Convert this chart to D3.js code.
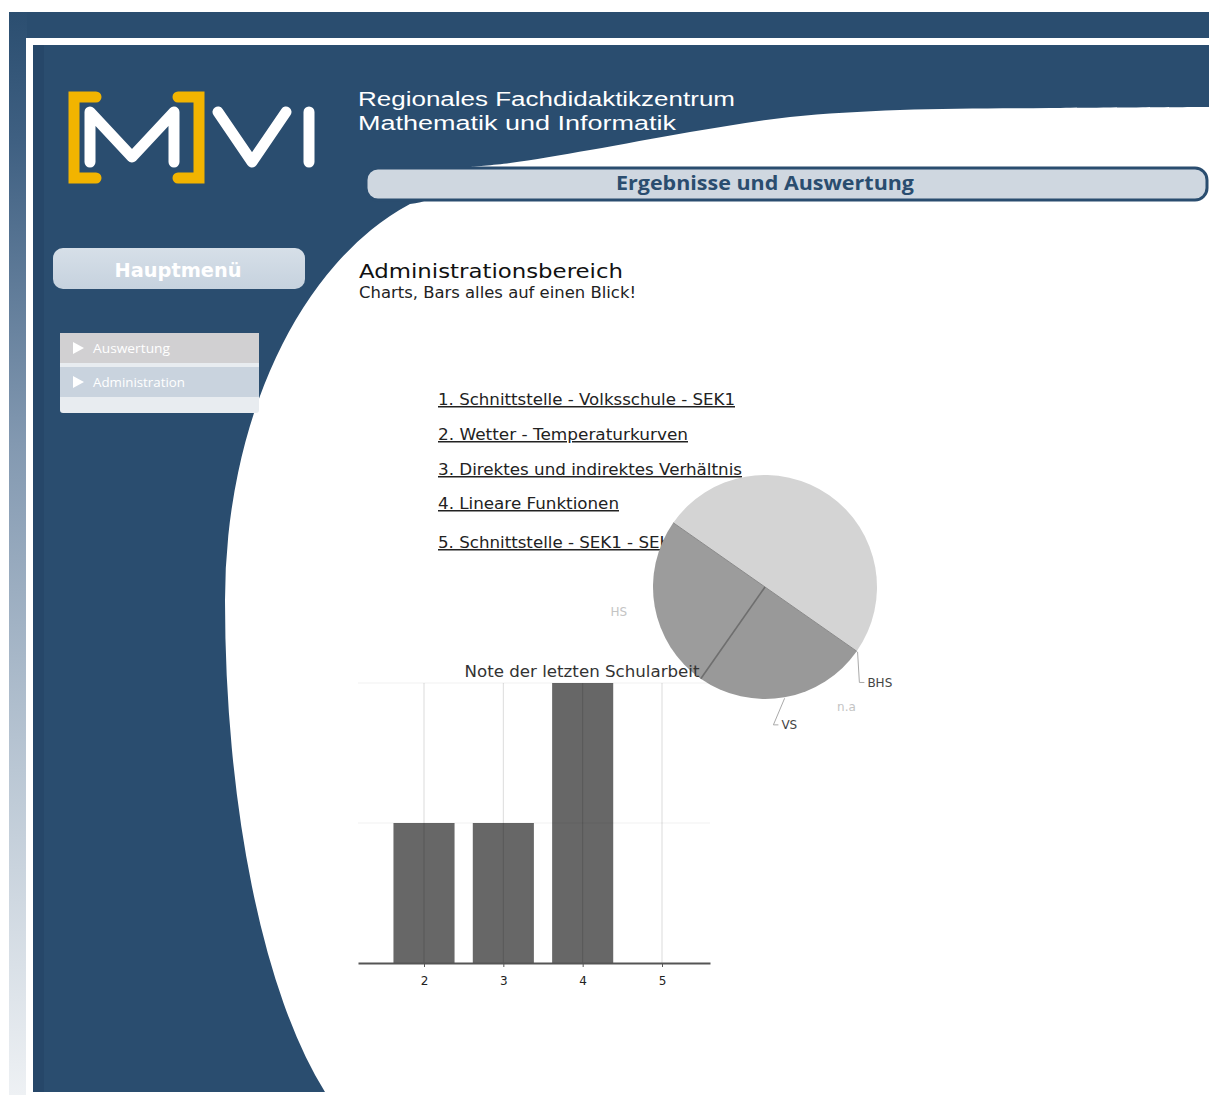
<!DOCTYPE html>
<html>
<head>
<meta charset="utf-8">
<script src="https://cdn.jsdelivr.net/npm/d3@7"></script>
<style>
body { margin: 0; background: #fff; }
svg { display: block; }
</style>
</head>
<body>
<script>
// ---- data ----
var pieNames = ["AHS", "BHS", "n.a", "VS", "HS"];
var pieValues = [2, 0, 0, 1, 1];

var barGrades = [2, 3, 4, 5];
var barCounts = [1, 1, 2, 0];
var barTicks = [1, 2];

var menuItems = ["Auswertung", "Administration"];
var links = ["1. Schnittstelle - Volksschule - SEK1", "2. Wetter - Temperaturkurven",
	"3. Direktes und indirektes Verhältnis", "4. Lineare Funktionen", "5. Schnittstelle - SEK1 - SEK2"];

var blue = "#2a4d6f";
var width = 1209, height = 1095;

var svg = d3.select("body").append("svg")
	.attr("width", width)
	.attr("height", height);

var defs = svg.append("defs");
var grad = defs.append("linearGradient").attr("id", "strip").attr("x1", 0).attr("y1", 0).attr("x2", 0).attr("y2", 1);
grad.append("stop").attr("offset", "0%").attr("stop-color", "#2b4e70");
grad.append("stop").attr("offset", "12%").attr("stop-color", "#3f6082");
grad.append("stop").attr("offset", "40%").attr("stop-color", "#8399b1");
grad.append("stop").attr("offset", "70%").attr("stop-color", "#bac7d4");
grad.append("stop").attr("offset", "100%").attr("stop-color", "#eef1f4");

var pillGrad = defs.append("linearGradient").attr("id", "pill").attr("x1", 0).attr("y1", 0).attr("x2", 0).attr("y2", 1);
pillGrad.append("stop").attr("offset", "0%").attr("stop-color", "#d6dfe8");
pillGrad.append("stop").attr("offset", "100%").attr("stop-color", "#c6d2de");

// ---- page frame ----
svg.append("rect").attr("x", 9).attr("y", 12).attr("width", width - 9).attr("height", 33).attr("fill", blue);
svg.append("rect").attr("x", 9).attr("y", 12).attr("width", 18).attr("height", height - 12).attr("fill", "url(#strip)");
svg.append("rect").attr("x", 26).attr("y", 38).attr("width", width - 26).attr("height", 7).attr("fill", "#fff");
svg.append("rect").attr("x", 26).attr("y", 38).attr("width", 7).attr("height", height - 38).attr("fill", "#fff");
svg.append("rect").attr("x", 33).attr("y", 45).attr("width", width - 33).attr("height", 1047).attr("fill", blue);
svg.append("rect").attr("x", 33).attr("y", 45).attr("width", 11).attr("height", 1047).attr("fill", "#264769");

// white swoosh under header
var curveLine = d3.line().curve(d3.curveCatmullRom.alpha(0.5));
var upper = [[1209, 107], [1050, 108], [900, 110], [790, 117], [690, 132], [590, 150], [510, 163], [470, 167]];
svg.append("path")
	.attr("d", curveLine(upper) + "L470,186L1209,186Z")
	.attr("fill", "#fff");

// white content area, left edge made of two elliptical arcs
var edge = d3.path();
edge.moveTo(1209, 186);
edge.lineTo(445, 186);
edge.quadraticCurveTo(432, 202, 410, 204);
var edgeStr = edge.toString() + "A277,420 0 0 0 225,600A192,560 0 0 0 325,1092L1209,1092Z";
svg.append("path").attr("d", edgeStr).attr("fill", "#fff");

// ---- logo ----
var logo = svg.append("g")
	.attr("fill", "none")
	.attr("stroke-width", 11)
	.attr("stroke-linecap", "round");
logo.append("path").attr("d", "M96,97L74,97L74,178L96,178").attr("stroke", "#f2b400");
logo.append("path").attr("d", "M178,97L199,97L199,178L178,178").attr("stroke", "#f2b400");
logo.append("path").attr("d", "M90,162L90,112L132,157L174,112L174,162").attr("stroke", "#fff").attr("stroke-linejoin", "round");
logo.append("path").attr("d", "M218,112L252,162L286,112").attr("stroke", "#fff").attr("stroke-linejoin", "round");
logo.append("path").attr("d", "M309,112L309,162").attr("stroke", "#fff");

// header texts
svg.append("text").attr("x", 358).attr("y", 106)
	.attr("font-family", "Liberation Sans").attr("font-size", 20).attr("fill", "#fff")
	.attr("textLength", 377).attr("lengthAdjust", "spacingAndGlyphs")
	.text("Regionales Fachdidaktikzentrum");
svg.append("text").attr("x", 358).attr("y", 130)
	.attr("font-family", "Liberation Sans").attr("font-size", 20).attr("fill", "#fff")
	.attr("textLength", 318).attr("lengthAdjust", "spacingAndGlyphs")
	.text("Mathematik und Informatik");

// section pill
svg.append("rect").attr("x", 366).attr("y", 168).attr("width", 841).attr("height", 32).attr("rx", 12)
	.attr("fill", "#cfd7e0").attr("stroke", blue).attr("stroke-width", 3);
svg.append("text").attr("x", 765).attr("y", 190).attr("text-anchor", "middle")
	.attr("font-family", "Open Sans").attr("font-weight", "bold").attr("font-size", 20).attr("fill", blue)
	.attr("textLength", 298).attr("lengthAdjust", "spacingAndGlyphs")
	.text("Ergebnisse und Auswertung");

// ---- left menu ----
svg.append("rect").attr("x", 53).attr("y", 248).attr("width", 252).attr("height", 41).attr("rx", 10)
	.attr("fill", "url(#pill)");
svg.append("text").attr("x", 178).attr("y", 277).attr("text-anchor", "middle")
	.attr("font-family", "DejaVu Sans").attr("font-weight", "bold").attr("font-size", 20).attr("fill", "#fff")
	.attr("textLength", 127).attr("lengthAdjust", "spacingAndGlyphs")
	.text("Hauptmenü");

var rowFill = ["#d1d0d2", "#c9d3de"];
var rowText = [77, 92];
var menu = svg.append("g");
menu.append("rect").attr("x", 60).attr("y", 333).attr("width", 199).attr("height", 80).attr("rx", 3).attr("fill", "#e8ecf0");
menuItems.forEach(function(m, i) {
	var top = 333 + i * 34;
	menu.append("rect").attr("x", 60).attr("y", top).attr("width", 199).attr("height", 30).attr("fill", rowFill[i]);
	menu.append("path").attr("d", "M73," + (top + 9) + "L73," + (top + 21) + "L84," + (top + 15) + "Z").attr("fill", "#fff");
	menu.append("text").attr("x", 93).attr("y", top + 20)
		.attr("font-family", "Open Sans").attr("font-size", 12).attr("fill", "#fff")
		.attr("textLength", rowText[i]).attr("lengthAdjust", "spacingAndGlyphs")
		.text(m);
});

// ---- content ----
svg.append("text").attr("x", 359).attr("y", 278)
	.attr("font-family", "DejaVu Sans").attr("font-size", 20).attr("fill", "#111")
	.attr("textLength", 264).attr("lengthAdjust", "spacingAndGlyphs")
	.text("Administrationsbereich");
svg.append("text").attr("x", 359).attr("y", 298)
	.attr("font-family", "DejaVu Sans").attr("font-size", 15).attr("fill", "#222")
	.attr("textLength", 277).attr("lengthAdjust", "spacingAndGlyphs")
	.text("Charts, Bars alles auf einen Blick!");

var linkY = [405, 440, 475, 509, 548];
var linkW = [297, 250, 304, 181, 243];
svg.selectAll(".link").data(links).enter().append("text")
	.attr("class", "link")
	.attr("x", 438)
	.attr("y", function(d, i) { return linkY[i]; })
	.attr("font-family", "DejaVu Sans").attr("font-size", 15).attr("fill", "#222")
	.attr("text-decoration", "underline")
	.attr("textLength", function(d, i) { return linkW[i]; })
	.attr("lengthAdjust", "spacingAndGlyphs")
	.text(function(d) { return d; });

// ---- pie ----
var cx = 765, cy = 587, r = 112;
var startA = -55 * Math.PI / 180;
var arcs = d3.pie().sort(null).startAngle(startA).endAngle(startA + 2 * Math.PI)(pieValues);
var arc = d3.arc().innerRadius(0).outerRadius(r);
var pieCol = ["#d4d4d4", "#999", "#999", "#999999", "#9c9c9c"];

var pieG = svg.append("g").attr("transform", "translate(" + cx + "," + cy + ")");
pieG.selectAll("path.slice").data(arcs).enter().append("path")
	.attr("class", "slice")
	.attr("d", arc)
	.attr("fill", function(d, i) { return pieCol[i]; });

// slice borders
pieG.selectAll("line.edge").data(arcs.filter(function(d) { return d.value > 0; })).enter().append("line")
	.attr("class", "edge")
	.attr("x1", 0).attr("y1", 0)
	.attr("x2", function(d) { return r * Math.sin(d.startAngle); })
	.attr("y2", function(d) { return -r * Math.cos(d.startAngle); })
	.attr("stroke", function(d, i) { return i === 2 ? "#6e6e6e" : "#8a8a8a"; })
	.attr("stroke-width", function(d, i) { return i === 2 ? 1.6 : 1; });

// labels
var faint = {"HS": true, "n.a": true};
var prevAng = null;
arcs.forEach(function(d, i) {
	var name = pieNames[i];
	if (name === "AHS") return;
	var mid = (d.startAngle + d.endAngle) / 2;
	var ang = mid;
	if (d.value === 0) ang += 8 * Math.PI / 180;
	if (prevAng !== null && Math.abs(ang - prevAng) < 14 * Math.PI / 180) ang = prevAng + 16 * Math.PI / 180;
	prevAng = ang;
	var lr = 140;
	var lx = lr * Math.sin(ang), ly = -lr * Math.cos(ang);
	var anchor = Math.abs(Math.sin(ang)) < 0.3 ? "middle" : (lx > 0 ? "start" : "end");
	var t = pieG.append("text")
		.attr("x", lx).attr("y", ly).attr("dy", "0.35em")
		.attr("text-anchor", anchor)
		.attr("font-family", "DejaVu Sans").attr("font-size", 12)
		.attr("fill", faint[name] ? "#c4c4c4" : "#444")
		.text(name);
	if (!faint[name]) {
		var bb = t.node().getBBox();
		var ex = (r + 1) * Math.sin(mid), ey = -(r + 1) * Math.cos(mid);
		pieG.append("polyline")
			.attr("points", [[ex, ey], [bb.x - 8, ly], [bb.x - 3, ly]].join(" "))
			.attr("fill", "none").attr("stroke", "#aaa").attr("stroke-width", 1);
	}
});

// ---- bar chart ----
var x = d3.scaleLinear().domain([1.168, 5.605]).range([358, 710]);
var y = d3.scaleLinear().domain([0, 2]).range([963, 683]);
var barW = (x(3) - x(2)) * 0.77;

var chart = svg.append("g");
chart.append("text").attr("x", 582).attr("y", 677).attr("text-anchor", "middle")
	.attr("font-family", "DejaVu Sans").attr("font-size", 15).attr("fill", "#333")
	.attr("textLength", 235).attr("lengthAdjust", "spacingAndGlyphs")
	.text("Note der letzten Schularbeit");

chart.selectAll("rect.bar").data(barCounts).enter().append("rect")
	.attr("class", "bar")
	.attr("x", function(d, i) { return x(barGrades[i]) - barW / 2; })
	.attr("y", function(d) { return y(d); })
	.attr("width", barW)
	.attr("height", function(d) { return y(0) - y(d); })
	.attr("fill", "#676767");

chart.selectAll("line.vgrid").data(barGrades).enter().append("line")
	.attr("class", "vgrid")
	.attr("x1", function(d) { return x(d); }).attr("x2", function(d) { return x(d); })
	.attr("y1", y(2)).attr("y2", y(0))
	.attr("stroke", "rgba(0,0,0,0.14)");
chart.selectAll("line.hgrid").data(barTicks).enter().append("line")
	.attr("class", "hgrid")
	.attr("x1", 358).attr("x2", 710)
	.attr("y1", function(d) { return y(d); }).attr("y2", function(d) { return y(d); })
	.attr("stroke", "rgba(0,0,0,0.06)");

var xAxis = d3.axisBottom(x)
	.tickValues(barGrades)
	.tickFormat(d3.format("d"))
	.tickSize(4)
	.tickSizeOuter(0)
	.tickPadding(9);

var ax = chart.append("g")
	.attr("transform", "translate(0," + y(0) + ")")
	.call(xAxis);
ax.select(".domain").attr("stroke", "#555").attr("stroke-width", 2);
ax.selectAll(".tick line").attr("stroke", "#555");
ax.selectAll(".tick text").attr("font-family", "DejaVu Sans").attr("font-size", 12).attr("fill", "#222");
</script>
</body>
</html>
